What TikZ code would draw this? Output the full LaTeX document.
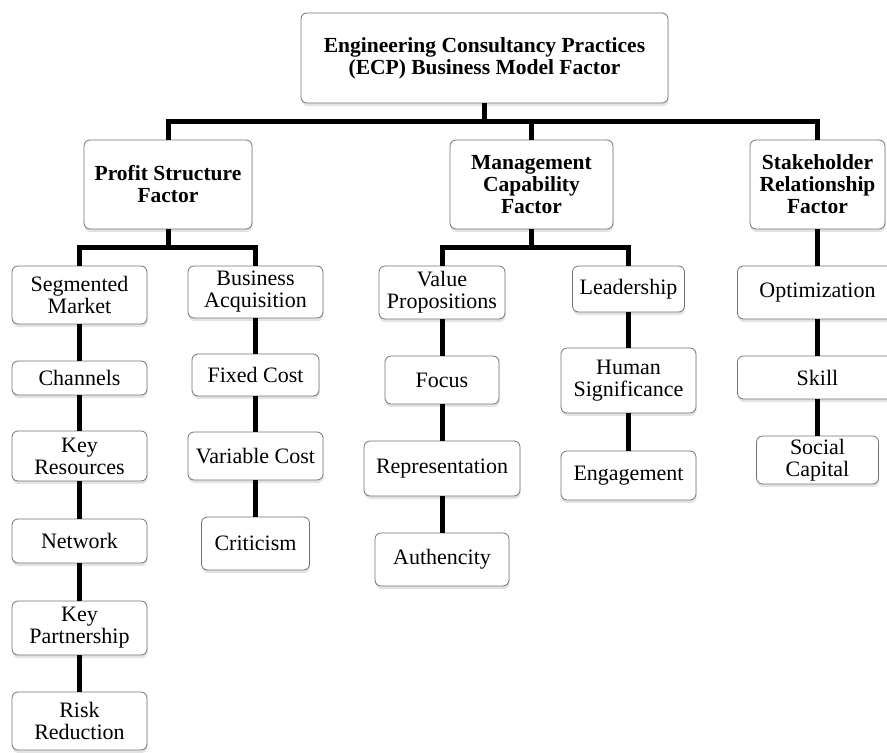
\documentclass[tikz,border=0pt]{standalone}
\usepackage{fontspec}
\setmainfont{Liberation Serif}
\usetikzlibrary{shadows}
\tikzset{
  box/.style={draw=black!55, line width=0.8pt, rounded corners=6pt, fill=white,
    align=center, inner sep=2pt, font=\fontsize{22}{22}\selectfont,
    drop shadow={shadow xshift=0.5pt, shadow yshift=-3pt, opacity=0.22}},
  headbox/.style={box, font=\fontsize{21.5}{22}\selectfont\bfseries},
  link/.style={line width=5pt}
}
\begin{document}
\begin{tikzpicture}[x=1pt, y=-1pt]
  \clip (0,0) rectangle (887,753);
  % 맨 위 상자
  \node[headbox, minimum width=367, minimum height=90] (ecp) at (484.5,58) {Engineering Consultancy Practices\\(ECP) Business Model Factor};
  % 세 요인
  \node[headbox, minimum width=168, minimum height=89] (profit) at (168,184.5) {Profit Structure\\Factor};
  \node[headbox, minimum width=163, minimum height=89] (manage) at (531.5,184.5) {Management\\Capability\\Factor};
  \node[headbox, minimum width=135, minimum height=89] (stake) at (817.5,184.5) {Stakeholder\\Relationship\\Factor};
  % 이익 구조 항목
  \node[box, minimum width=135, minimum height=58] (segment) at (79.5,295) {Segmented\\Market};
  \node[box, minimum width=135, minimum height=34] (channel) at (79.5,378) {Channels};
  \node[box, minimum width=135, minimum height=50] (resource) at (79.5,456) {Key\\Resources};
  \node[box, minimum width=135, minimum height=44] (network) at (79.5,541) {Network};
  \node[box, minimum width=135, minimum height=54] (partner) at (79.5,628) {Key\\Partnership};
  \node[box, minimum width=135, minimum height=58] (risk) at (79.5,721) {Risk\\Reduction};
  \node[box, minimum width=135, minimum height=52] (acquire) at (255.5,292) {Business\\Acquisition};
  \node[box, minimum width=127, minimum height=42] (fixed) at (255.5,375) {Fixed Cost};
  \node[box, minimum width=135, minimum height=48] (variable) at (255.5,456) {Variable Cost};
  \node[box, minimum width=108, minimum height=53] (critic) at (255.5,543.5) {Criticism};
  % 관리 역량 항목
  \node[box, minimum width=126, minimum height=53] (value) at (442,292.5) {Value\\Propositions};
  \node[box, minimum width=114, minimum height=48] (focus) at (442,380) {Focus};
  \node[box, minimum width=156, minimum height=55] (repr) at (442,468.5) {Representation};
  \node[box, minimum width=134, minimum height=53] (authen) at (442,559.5) {Authencity};
  \node[box, minimum width=112, minimum height=46] (leader) at (628.5,289) {Leadership};
  \node[box, minimum width=135, minimum height=65] (human) at (628.5,380.5) {Human\\Significance};
  \node[box, minimum width=135, minimum height=49] (engage) at (628.5,475.5) {Engagement};
  % 이해관계자 항목
  \node[box, minimum width=160, minimum height=53] (optim) at (817.5,292.5) {Optimization};
  \node[box, minimum width=160, minimum height=43] (skill) at (817.5,377.5) {Skill};
  \node[box, minimum width=122, minimum height=48] (social) at (817.5,460) {Social\\Capital};
  % 가지 연결점
  \coordinate (top) at (484.5,121);
  \coordinate (profitbar) at (168,247);
  \coordinate (managebar) at (531.5,247);
  % 굵은 연결선
  \draw[link] (ecp) -- (top);
  \draw[link] (profit.north) |- (top) -| (stake.north);
  \draw[link] (manage) -- (manage |- top);
  \draw[link] (profit) -- (profitbar);
  \draw[link] (segment.north) |- (profitbar) -| (acquire.north);
  \draw[link] (manage) -- (managebar);
  \draw[link] (value.north) |- (managebar) -| (leader.north);
  \draw[link] (stake) -- (optim);
  \draw[link] (segment) -- (channel);
  \draw[link] (channel) -- (resource);
  \draw[link] (resource) -- (network);
  \draw[link] (network) -- (partner);
  \draw[link] (partner) -- (risk);
  \draw[link] (acquire) -- (fixed);
  \draw[link] (fixed) -- (variable);
  \draw[link] (variable) -- (critic);
  \draw[link] (value) -- (focus);
  \draw[link] (focus) -- (repr);
  \draw[link] (repr) -- (authen);
  \draw[link] (leader) -- (human);
  \draw[link] (human) -- (engage);
  \draw[link] (optim) -- (skill);
  \draw[link] (skill) -- (social);
\end{tikzpicture}
\end{document}
